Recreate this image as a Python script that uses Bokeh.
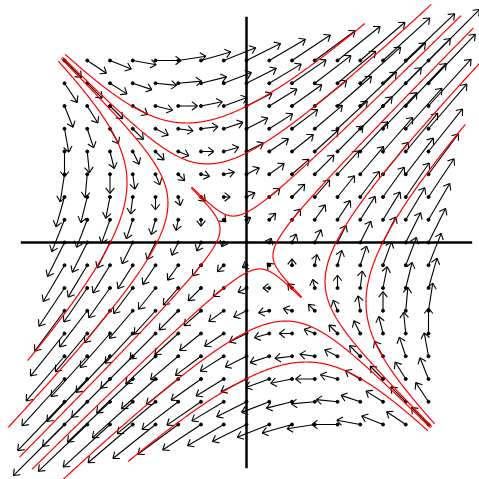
import numpy as np
from bokeh.plotting import figure
from bokeh.models import Range1d
from bokeh.embed import file_html
from bokeh.resources import INLINE

# linear system  x' = a*x + b*y ,  y' = c*x + d*y
coef_a, coef_b, coef_c, coef_d = 0.5, 1.0, 1.0, 0.5

# direction-field grid
grid_x = [-2.0, -1.75, -1.5, -1.25, -1.0, -0.75, -0.5, -0.25, 0.0,
          0.25, 0.5, 0.75, 1.0, 1.25, 1.5, 1.75, 2.0]
grid_y = [-2.0, -1.75, -1.5, -1.25, -1.0, -0.75, -0.5, -0.25, 0.0,
          0.25, 0.5, 0.75, 1.0, 1.25, 1.5, 1.75, 2.0]
arrow_scale = 0.187

# solution curves: initial points and integration time
ic_x = [-1.9925, -2.0675, 1.9925, 2.0675,
        -2.023, -2.037, 2.023, 2.037,
        -0.6016, -0.6084, 0.6016, 0.6084]
ic_y = [2.0675, 1.9925, -2.0675, -1.9925,
        2.037, 2.023, -2.037, -2.023,
        0.6084, 0.6016, -0.6084, -0.6016]
t_end = [2.6, 2.6, 2.6, 2.6,
         3.87, 3.87, 3.87, 3.87,
         4.38, 4.38, 4.38, 4.38]

axis_lo, axis_hi = -2.48, 2.48


def field(x, y):
    return coef_a * x + coef_b * y, coef_c * x + coef_d * y


def trajectory(x0, y0, T, dt=0.005):
    n = int(round(T / dt))
    xs = [x0]
    ys = [y0]
    x, y = x0, y0
    for _ in range(n):
        k1 = field(x, y)
        k2 = field(x + dt / 2 * k1[0], y + dt / 2 * k1[1])
        k3 = field(x + dt / 2 * k2[0], y + dt / 2 * k2[1])
        k4 = field(x + dt * k3[0], y + dt * k3[1])
        x = x + dt / 6 * (k1[0] + 2 * k2[0] + 2 * k3[0] + k4[0])
        y = y + dt / 6 * (k1[1] + 2 * k2[1] + 2 * k3[1] + k4[1])
        xs.append(x)
        ys.append(y)
    return xs, ys


p = figure(width=479, height=479, output_backend="svg", toolbar_location=None,
           x_range=Range1d(-2.7033, 2.5604), y_range=Range1d(-2.6044, 2.6593),
           x_axis_location=None, y_axis_location=None, min_border=0)
p.xgrid.visible = False
p.ygrid.visible = False
p.outline_line_color = None
p.background_fill_color = "white"

# axes lines
p.segment(x0=[axis_lo, 0], y0=[0, axis_lo], x1=[axis_hi, 0], y1=[0, axis_hi],
          line_color="black", line_width=2.5)

# arrows
GX, GY = np.meshgrid(np.array(grid_x), np.array(grid_y))
GX = GX.ravel()
GY = GY.ravel()
FX, FY = field(GX, GY)
TX = GX + arrow_scale * FX
TY = GY + arrow_scale * FY
p.segment(x0=GX, y0=GY, x1=TX, y1=TY, line_color="black", line_width=1.1)

L = np.hypot(FX, FY)
ux = np.where(L > 0, FX / np.where(L > 0, L, 1), 0)
uy = np.where(L > 0, FY / np.where(L > 0, L, 1), 0)
head = 7.0 / 91.0
ang = np.deg2rad(38)
bx0, by0, bx1, by1 = [], [], [], []
for s in (1, -1):
    ca, sa = np.cos(s * ang), np.sin(s * ang)
    rx = ux * ca - uy * sa
    ry = ux * sa + uy * ca
    bx0.append(TX)
    by0.append(TY)
    bx1.append(TX - head * rx)
    by1.append(TY - head * ry)
p.segment(x0=np.concatenate(bx0), y0=np.concatenate(by0),
          x1=np.concatenate(bx1), y1=np.concatenate(by1),
          line_color="black", line_width=1.1)
p.scatter(GX, GY, size=3, color="black")

# solution curves
cxs, cys = [], []
for x0, y0, T in zip(ic_x, ic_y, t_end):
    xs, ys = trajectory(x0, y0, T)
    cxs.append(xs)
    cys.append(ys)
p.multi_line(cxs, cys, line_color="red", line_width=1.2)

open("out.html", "w").write(file_html(p, INLINE))
